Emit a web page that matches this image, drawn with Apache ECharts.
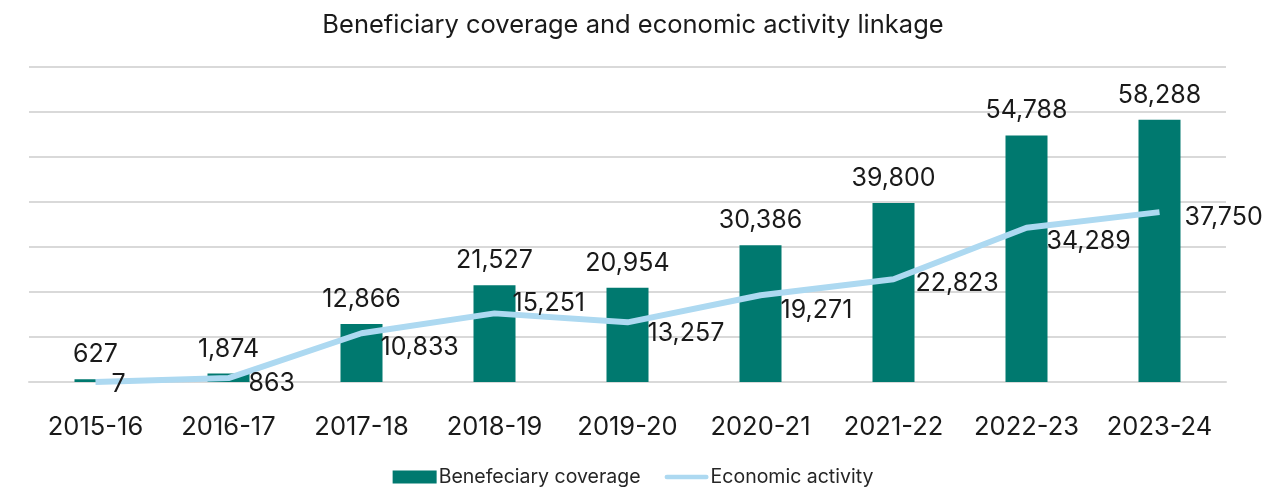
<!DOCTYPE html>
<html>
<head>
<meta charset="utf-8">
<script src="https://cdn.jsdelivr.net/npm/echarts@6/dist/echarts.min.js"></script>
<style>
html,body{margin:0;padding:0;background:#fff;}
#main{width:1266px;height:492px;}
</style>
</head>
<body>
<div id="main"></div>
<script>
const categories = ['2015-16','2016-17','2017-18','2018-19','2019-20','2020-21','2021-22','2022-23','2023-24'];
const beneficiaryCoverage = [627, 1874, 12866, 21527, 20954, 30386, 39800, 54788, 58288];
const economicActivity = [7, 863, 10833, 15251, 13257, 19271, 22823, 34289, 37750];
const titleText = 'Beneficiary coverage and economic activity linkage';

// label offsets for the line labels (style only)
const lineLabelOffsets = [[11,3],[15,5],[14,14],[13,-10],[15,11],[15,15],[17,4],[15,14],[20,5]];

const FONT = 'Inter';
const chart = echarts.init(document.getElementById('main'));
const option = {
  backgroundColor: '#ffffff',
  textStyle: { fontFamily: FONT },
  title: {
    text: titleText,
    left: 'center',
    top: 7,
    textStyle: { fontFamily: FONT, fontSize: 25.5, fontWeight: 'normal', color: '#1a1a1a' }
  },
  legend: {
    bottom: 0,
    left: 'center',
    itemWidth: 44,
    itemHeight: 13,
    itemGap: 24,
    textStyle: { fontFamily: FONT, fontSize: 19.5, color: '#262626', padding: [0,0,0,-3] },
    data: [
      { name: 'Benefeciary coverage', icon: 'rect' },
      { name: 'Economic activity', icon: 'path://M2.5,0 L45.5,0 A2.5,2.5 0 0 1 45.5,5 L2.5,5 A2.5,2.5 0 0 1 2.5,0 Z', itemStyle: { color: '#add9f1' } }
    ]
  },
  grid: { left: 29, right: 40, top: 67, bottom: 110, containLabel: false },
  xAxis: {
    type: 'category',
    data: categories,
    axisTick: { show: false },
    axisLine: { lineStyle: { color: '#d9d9d9', width: 2 } },
    axisLabel: { fontFamily: FONT, fontSize: 25.5, color: '#1a1a1a', margin: 32, interval: 0, hideOverlap: false }
  },
  yAxis: {
    type: 'value',
    min: 0,
    max: 70000,
    interval: 10000,
    axisLabel: { show: false },
    axisLine: { show: false },
    axisTick: { show: false },
    splitLine: { lineStyle: { color: '#d9d9d9', width: 2 } }
  },
  series: [
    {
      name: 'Benefeciary coverage',
      type: 'bar',
      data: beneficiaryCoverage,
      barWidth: 42,
      itemStyle: { color: '#00796f' },
      label: {
        show: true,
        position: 'top',
        distance: 12,
        fontFamily: FONT,
        fontSize: 25,
        color: '#1a1a1a',
        formatter: p => p.value.toLocaleString('en-US')
      },
      z: 2
    },
    {
      name: 'Economic activity',
      type: 'line',
      data: economicActivity.map((v, i) => ({
        value: v,
        label: { offset: lineLabelOffsets[i] }
      })),
      symbol: 'circle',
      symbolSize: 0,
      showSymbol: true,
      lineStyle: { color: '#add9f1', width: 6 },
      itemStyle: { color: '#add9f1' },
      label: {
        show: true,
        position: 'right',
        distance: 5,
        fontFamily: FONT,
        fontSize: 25,
        color: '#1a1a1a',
        formatter: p => p.value.toLocaleString('en-US')
      },
      z: 3
    }
  ]
};
chart.setOption(option);
</script>
</body>
</html>
